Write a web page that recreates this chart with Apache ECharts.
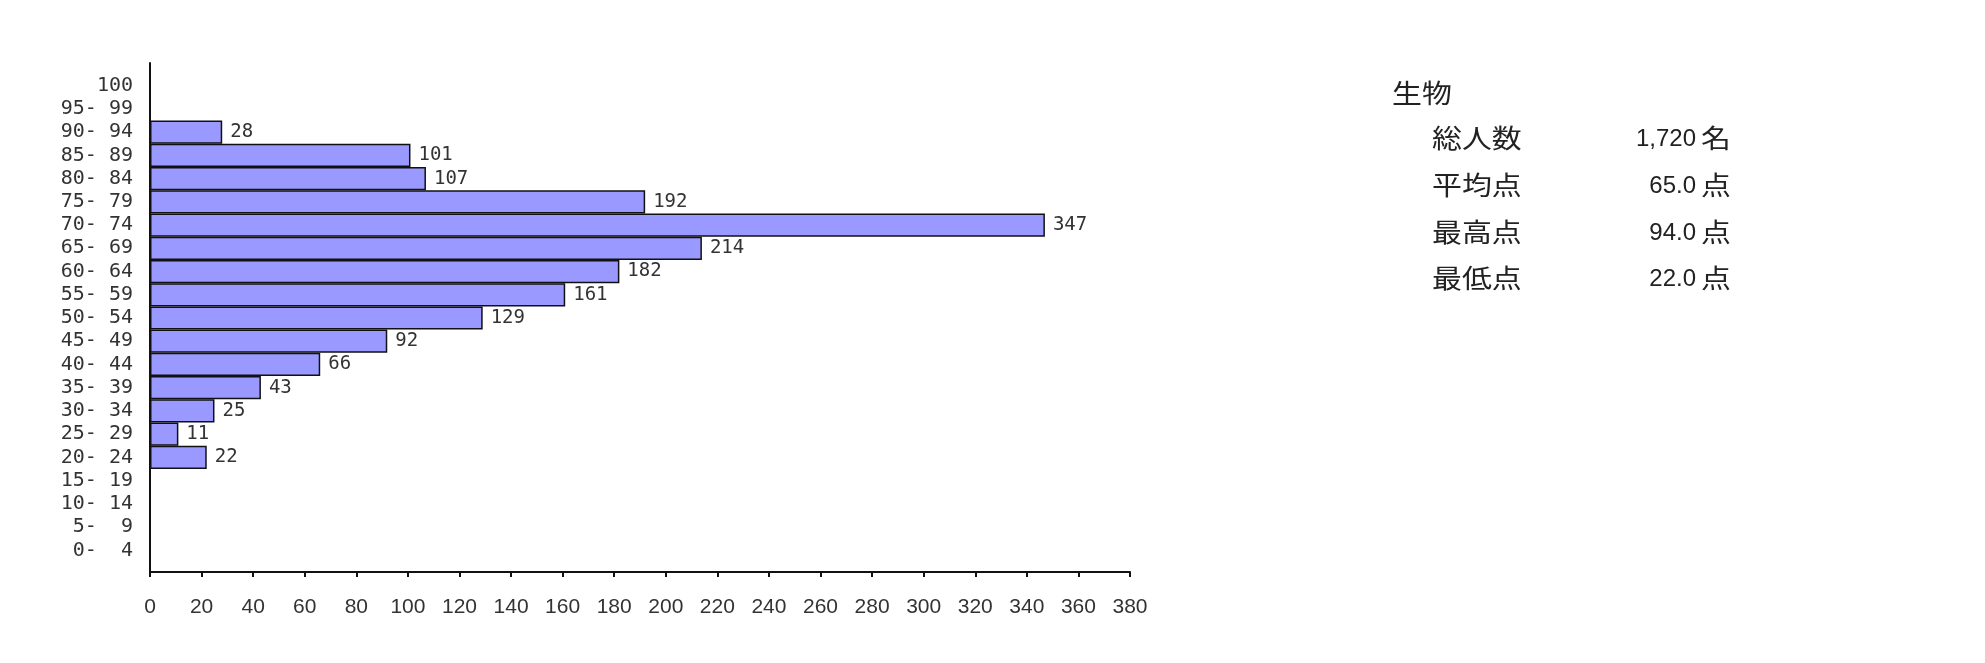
<!DOCTYPE html>
<html>
<head>
<meta charset="utf-8">
<script src="https://cdn.jsdelivr.net/npm/echarts@6/dist/echarts.min.js"></script>
<style>
html,body{margin:0;padding:0;background:#fff;}
#c{width:1985px;height:663px;}
</style>
</head>
<body>
<div id="c"></div>
<script>
// Score ranges (bottom to top)
var categories = [' 0-  4',' 5-  9','10- 14','15- 19','20- 24','25- 29','30- 34','35- 39','40- 44','45- 49','50- 54','55- 59','60- 64','65- 69','70- 74','75- 79','80- 84','85- 89','90- 94','95- 99','   100'];
// Number of students per range
var counts = [null,null,null,null,22,11,25,43,66,92,129,161,182,214,347,192,107,101,28,null,null];
// X axis
var xMin = 0, xMax = 380, xStep = 20;
// Summary block
var subjectName = '生物';
var statLabels = ['総人数','平均点','最高点','最低点'];
var statValues = ['1,720','65.0','94.0','22.0'];
var statUnits = ['名','点','点','点'];

var chart = echarts.init(document.getElementById('c'));

var cjkFont = '26px "Noto Sans CJK JP"';
var graphics = [];
graphics.push({type:'text', x:1392, y:93, scaleX:1.15, style:{text:subjectName, x:0, y:0, font:cjkFont, fill:'#222', textVerticalAlign:'middle', verticalAlign:'middle'}});
var rowY = [138, 185, 232, 278];
for (var i=0;i<statLabels.length;i++){
  var yy = rowY[i];
  graphics.push({type:'text', x:1432, y:yy, scaleX:1.15, style:{text:statLabels[i], x:0, y:0, font:cjkFont, fill:'#222', textVerticalAlign:'middle', verticalAlign:'middle'}});
  graphics.push({type:'text', style:{text:statValues[i], x:1696, y:yy+1, font:'24px "Liberation Sans"', fill:'#222', textAlign:'right', align:'right', textVerticalAlign:'middle', verticalAlign:'middle'}});
  graphics.push({type:'text', x:1701, y:yy, scaleX:1.15, style:{text:statUnits[i], x:0, y:0, font:cjkFont, fill:'#222', textVerticalAlign:'middle', verticalAlign:'middle'}});
}

chart.setOption({
  backgroundColor:'#fff',
  animation:false,
  grid:[
    {left:150, right:855, top:63, bottom:91},
    {left:150, right:855, top:74, bottom:101}
  ],
  xAxis:[
    {gridIndex:0, type:'value', min:xMin, max:xMax, interval:xStep,
     axisLine:{show:true, lineStyle:{color:'#111', width:2}},
     axisTick:{show:true, inside:false, length:5, lineStyle:{color:'#111', width:2}},
     axisLabel:{margin:25, fontSize:21, fontFamily:'Liberation Sans', color:'#333'},
     splitLine:{show:false}},
    {gridIndex:1, type:'value', min:xMin, max:xMax, interval:xStep, show:false}
  ],
  yAxis:[
    {gridIndex:0, type:'value', min:0, max:1,
     axisLine:{show:true, lineStyle:{color:'#111', width:2}},
     axisTick:{show:false}, axisLabel:{show:false}, splitLine:{show:false}},
    {gridIndex:1, type:'category', data:categories,
     axisLine:{show:false}, axisTick:{show:false}, splitLine:{show:false},
     axisLabel:{interval:0, margin:17, fontSize:20, fontFamily:'DejaVu Sans Mono', color:'#333', align:'right', padding:[2,0,0,0]}}
  ],
  series:[{
    type:'bar', xAxisIndex:1, yAxisIndex:1, data:counts,
    barCategoryGap:0, barWidth:'100%',
    itemStyle:{color:'#9999ff', borderColor:'#111', borderWidth:1.5},
    label:{show:true, position:'right', distance:8, fontSize:19, fontFamily:'DejaVu Sans Mono', color:'#333'}
  }],
  graphic:graphics
});
</script>
</body>
</html>
